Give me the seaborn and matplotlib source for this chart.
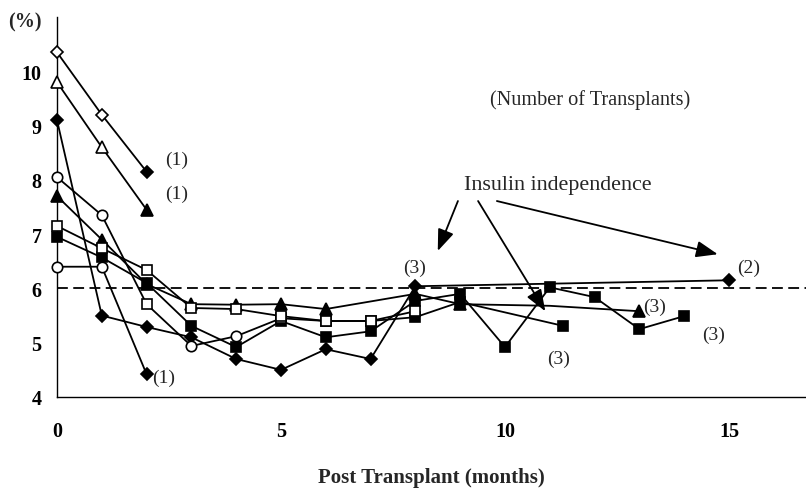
import matplotlib
matplotlib.use("Agg")
import matplotlib.pyplot as plt
import numpy as np
import pandas as pd
import seaborn as sns

sns.set_theme(style="white")
plt.rcParams["font.family"] = ["Liberation Serif", "DejaVu Serif"]

# HbA1c (%) after transplant, one list per patient
months_a = [0, 1, 2]
hba1c_a = [10.35, 9.2, 8.15]
marks_a = ["Do", "Do", "D"]

months_b = [0, 1, 2]
hba1c_b = [9.8, 8.6, 7.45]
marks_b = ["^o", "^o", "^"]

months_c = [0, 1, 2]
hba1c_c = [6.4, 6.4, 4.42]
marks_c = ["oo", "oo", "D"]

months_d = [0, 1, 2, 3, 4, 5, 6, 7, 8, 15]
hba1c_d = [9.1, 5.5, 5.29, 5.1, 4.7, 4.5, 4.88, 4.7, 6.04, 6.15]
marks_d = ["D"] * 10

months_e = [0, 1, 2, 3, 4, 5, 6, 7, 8, 9, 11.3]
hba1c_e = [8.05, 7.35, 5.71, 4.94, 5.12, 5.45, 5.4, 5.4, 5.47, 5.75, 5.31]
marks_e = ["oo", "oo", "so", "oo", "oo", "so", "so", "so", "s", "s", "s"]

months_f = [0, 1, 2, 3, 4, 5, 6, 8, 9, 11, 13]
hba1c_f = [7.7, 6.9, 6.08, 5.71, 5.7, 5.71, 5.62, 5.9, 5.71, 5.68, 5.58]
marks_f = ["^"] * 9 + ["", "^"]

months_g = [0, 1, 2, 3, 4, 5, 6, 7, 8, 9, 10, 11, 12, 13, 14]
hba1c_g = [6.95, 6.57, 6.1, 5.31, 4.92, 5.4, 5.1, 5.21, 5.77, 5.9, 4.92, 6.02, 5.84, 5.25, 5.49]
marks_g = ["s"] * 15

months_h = [0, 1, 2, 3, 4, 5, 6, 7, 8]
hba1c_h = [7.15, 6.74, 6.34, 5.64, 5.62, 5.49, 5.4, 5.4, 5.58]
marks_h = ["so"] * 9

transplant_labels = ["(1)", "(1)", "(1)", "(3)", "(3)", "(3)", "(3)", "(2)"]
target_level = 6.0

series = [
    ("a", months_a, hba1c_a, marks_a),
    ("b", months_b, hba1c_b, marks_b),
    ("c", months_c, hba1c_c, marks_c),
    ("d", months_d, hba1c_d, marks_d),
    ("e", months_e, hba1c_e, marks_e),
    ("f", months_f, hba1c_f, marks_f),
    ("g", months_g, hba1c_g, marks_g),
    ("h", months_h, hba1c_h, marks_h),
]
rows = []
for name, m, v, mk in series:
    for mm, vv, kk in zip(m, v, mk):
        rows.append({"patient": name, "month": mm, "hba1c": vv, "mark": kk})
df = pd.DataFrame(rows)

fig = plt.figure(figsize=(8.06, 4.89), dpi=100)
ax = fig.add_axes([57 / 806, 1 - 398 / 489, 1 - 57 / 806, (398 - 18) / 489])

# connecting lines
sns.lineplot(data=df, x="month", y="hba1c", units="patient", estimator=None,
             sort=False, color="black", linewidth=1.3, ax=ax, legend=False, zorder=2)

# markers: filled first, open (white face) on top
styles = {
    "D": dict(marker="D", ms=6, mfc="black"),
    "^": dict(marker="^", ms=8, mfc="black"),
    "s": dict(marker="s", ms=7, mfc="black"),
    "Do": dict(marker="D", ms=6.5, mfc="white"),
    "^o": dict(marker="^", ms=9, mfc="white"),
    "oo": dict(marker="o", ms=7.5, mfc="white"),
    "so": dict(marker="s", ms=7.5, mfc="white"),
}
for z, key in enumerate(["^", "D", "s", "Do", "^o", "oo", "so"]):
    sub = df[df["mark"] == key]
    st = styles[key]
    ax.plot(sub["month"], sub["hba1c"], linestyle="none", marker=st["marker"],
            markersize=st["ms"], markerfacecolor=st["mfc"], markeredgecolor="black",
            markeredgewidth=1.2, zorder=3 + z, clip_on=False)

# target line
ax.axhline(target_level, color="black", linestyle=(0, (6, 3)), linewidth=1.3, zorder=1)

# number-of-transplant labels
label_pos = [(2.42, 8.38), (2.42, 7.75), (2.12, 4.37), (7.72, 6.39),
             (10.95, 4.72), (13.08, 5.67), (14.4, 5.16), (15.18, 6.39)]
for txt, (px, py) in zip(transplant_labels, label_pos):
    ax.text(px, py, txt, fontsize=14, ha="left", va="center", zorder=10)

ax.text(11.9, 9.48, "(Number of Transplants)", fontsize=14.6, ha="center", va="center")
ax.text(11.18, 7.92, "Insulin independence", fontsize=15.8, ha="center", va="center")

arrow_kw = dict(arrowstyle="-|>,head_length=1.1,head_width=0.42", color="black",
                lw=1.3, shrinkA=0, shrinkB=0)
ax.annotate("", xy=(8.5, 6.69), xytext=(8.95, 7.61), arrowprops=arrow_kw)
ax.annotate("", xy=(10.9, 5.58), xytext=(9.4, 7.61), arrowprops=arrow_kw)
ax.annotate("", xy=(14.75, 6.63), xytext=(9.82, 7.61), arrowprops=arrow_kw)

ax.set_xlim(0, 16.72)
ax.set_ylim(4, 11)
ax.set_xticks([0, 5, 10, 15])
ax.set_yticks([4, 5, 6, 7, 8, 9, 10, 11])
ax.set_yticklabels(["4", "5", "6", "7", "8", "9", "10", ""])
ax.tick_params(axis="both", direction="in", length=5, width=1, colors="black",
               labelsize=14.5)
ax.tick_params(axis="x", pad=17)
ax.tick_params(axis="y", pad=11)
for lab in ax.get_xticklabels() + ax.get_yticklabels():
    lab.set_fontweight("bold")

for side in ["top", "right"]:
    ax.spines[side].set_visible(False)
for side in ["left", "bottom"]:
    ax.spines[side].set_color("black")
    ax.spines[side].set_linewidth(1.0)

ax.set_xlabel("Post Transplant (months)", fontsize=15, fontweight="bold", labelpad=19)
ax.set_ylabel("")
fig.text(25 / 806, 1 - 22 / 489, "(%)", fontsize=14.5, fontweight="bold",
         ha="center", va="center")

fig.savefig("out.png", dpi=100)
